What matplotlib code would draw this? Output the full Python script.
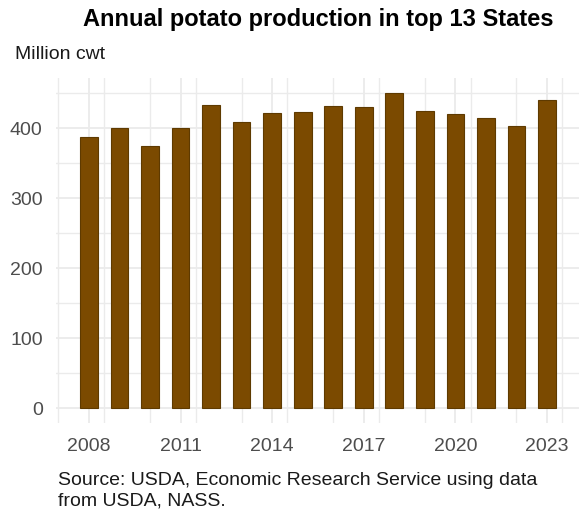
import matplotlib
matplotlib.use("Agg")
import matplotlib.pyplot as plt
from matplotlib.ticker import MultipleLocator

plt.rcParams['font.family'] = ['Liberation Sans', 'DejaVu Sans']

years = [2008, 2009, 2010, 2011, 2012, 2013, 2014, 2015,
         2016, 2017, 2018, 2019, 2020, 2021, 2022, 2023]
production = [387, 401, 375, 401, 433, 409, 422, 423,
              432, 431, 450, 424, 421, 414, 403, 441]
x_ticks = [2008, 2011, 2014, 2017, 2020, 2023]
y_ticks = [0, 100, 200, 300, 400]

title = "Annual potato production in top 13 States"
y_label = "Million cwt"
caption = "Source: USDA, Economic Research Service using data\nfrom USDA, NASS."

W, H = 579, 512
fig = plt.figure(figsize=(W / 100, H / 100), dpi=100)
ax = fig.add_axes([55.9 / W, 1 - 423.3 / H, (580 - 55.9) / W, (423.3 - 78.3) / H])

ax.bar(years, production, width=0.58, color="#7B4A00", edgecolor="#5E3A00",
       linewidth=0.8, zorder=3)

ax.set_xlim(2006.92, 2024.08)
ax.set_ylim(-21.5, 471.4)
ax.set_xticks(x_ticks)
ax.set_yticks(y_ticks)
ax.xaxis.set_minor_locator(MultipleLocator(1.5))
ax.yaxis.set_minor_locator(MultipleLocator(50))

ax.grid(which="major", color="#EBEBEB", linewidth=1.3, zorder=0)
ax.grid(which="minor", color="#EBEBEB", linewidth=1.0, zorder=0)
for s in ax.spines.values():
    s.set_visible(False)
ax.tick_params(which="both", length=0)
ax.tick_params(axis="x", labelsize=14, labelcolor="#4D4D4D", pad=10.5)
ax.tick_params(axis="y", labelsize=14, labelcolor="#4D4D4D", pad=9.5)
ax.set_axisbelow(True)

fig.text(318 / W, 1 - 26 / H, title, ha="center", va="baseline",
         fontsize=17, fontweight="bold", color="black")
fig.text(15 / W, 1 - 59.3 / H, y_label, ha="left", va="baseline",
         fontsize=14, color="#1A1A1A")
fig.text(58 / W, 1 - 506 / H, caption, ha="left", va="baseline",
         fontsize=14, color="#1A1A1A", linespacing=1.33)

fig.savefig("out.png", dpi=100)
